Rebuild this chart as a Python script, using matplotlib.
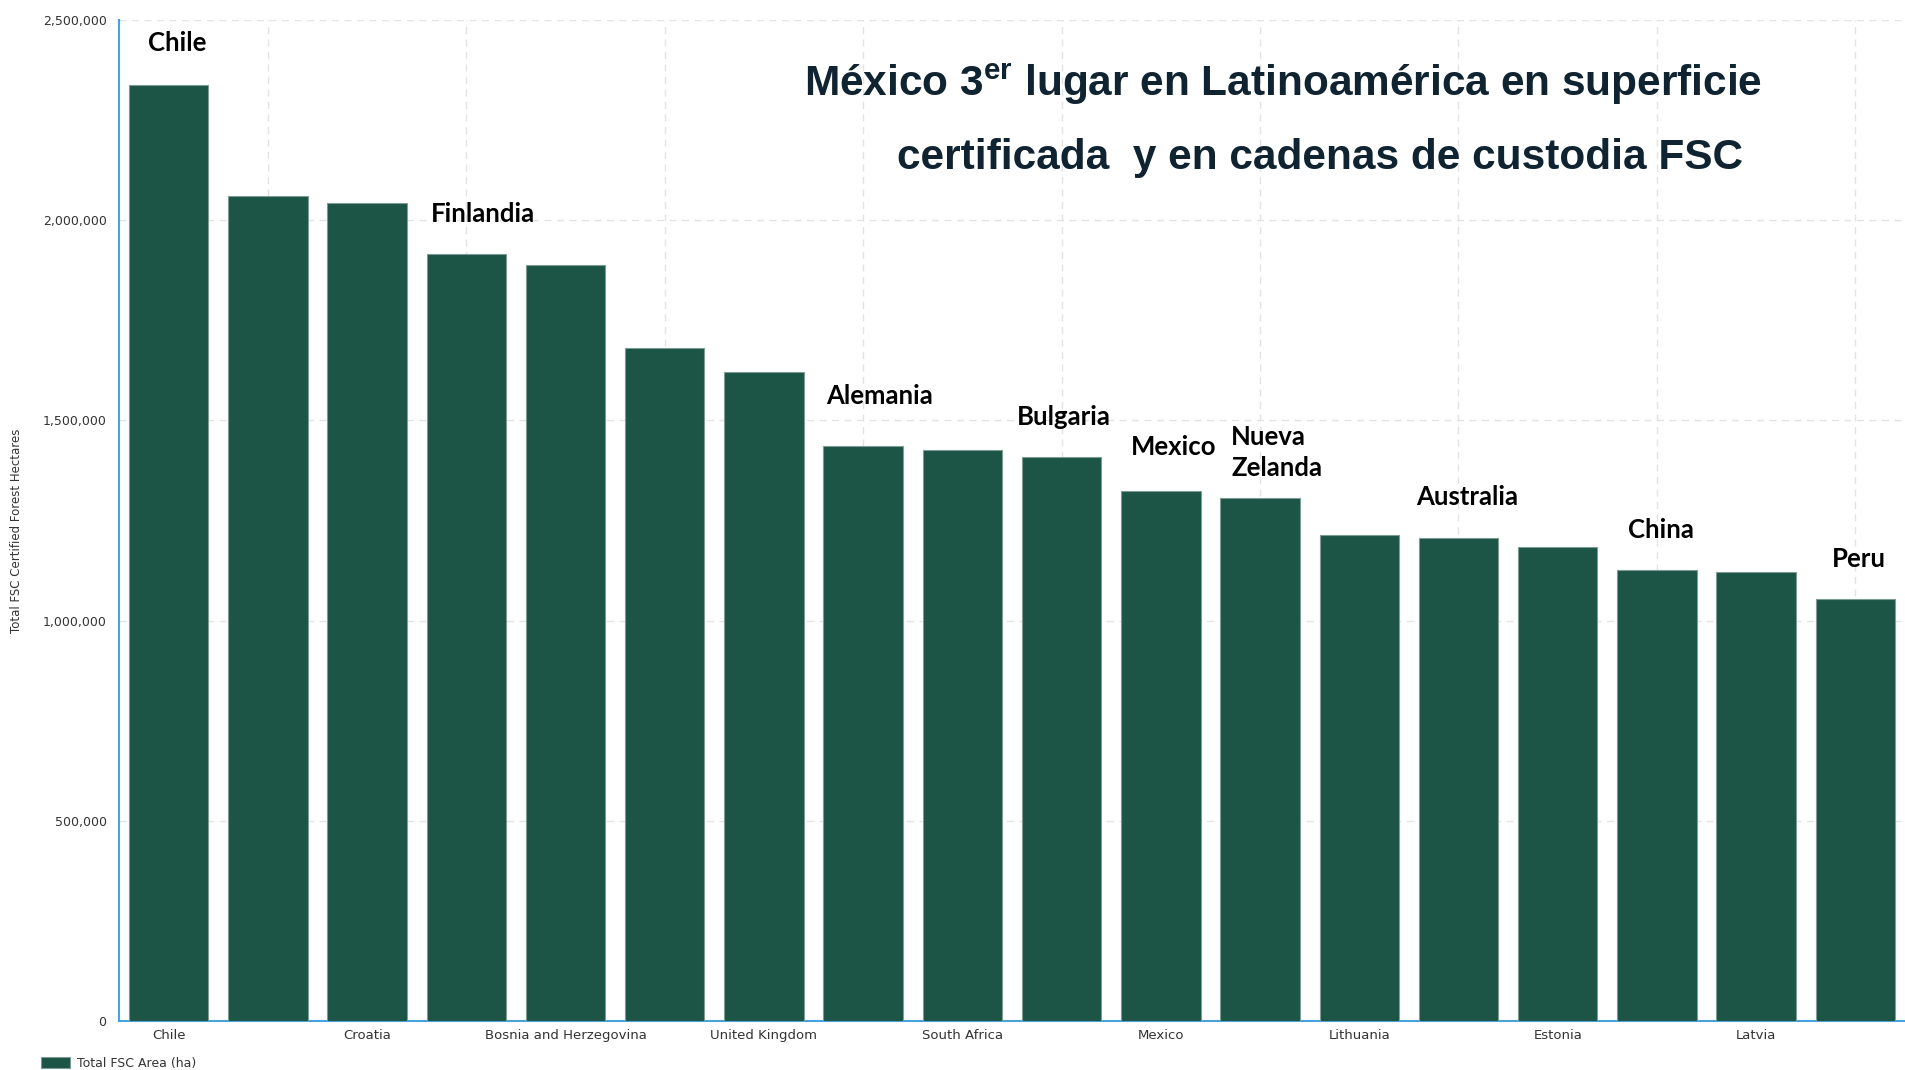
import matplotlib
matplotlib.use("Agg")
import matplotlib.pyplot as plt
from matplotlib.ticker import FuncFormatter, FixedLocator

# ---------------- data ----------------
countries = ["Chile", "Romania", "Croatia", "Finland", "Bosnia and Herzegovina",
             "Ukraine", "United Kingdom", "Germany", "South Africa", "Bulgaria",
             "Mexico", "New Zealand", "Lithuania", "Australia", "Estonia",
             "China", "Latvia", "Peru"]
area_ha = [2337000, 2061000, 2043000, 1916000, 1888000, 1682000, 1621000,
           1436000, 1427000, 1409000, 1324000, 1305000, 1214000, 1206000,
           1185000, 1127000, 1121000, 1055000]
annot_labels = {0: "Chile", 3: "Finlandia", 7: "Alemania", 9: "Bulgaria",
                10: "Mexico", 11: "Nueva\nZelanda", 13: "Australia",
                15: "China", 17: "Peru"}
y_ticks = [0, 500000, 1000000, 1500000, 2000000, 2500000]
series_name = "Total FSC Area (ha)"
y_label = "Total FSC Certified Forest Hectares"
title_1 = r"México 3$^{\mathbf{er}}$ lugar en Latinoamérica en superficie"
title_2 = "certificada  y en cadenas de custodia FSC"

# ---------------- style ----------------
plt.rcParams["mathtext.fontset"] = "custom"
plt.rcParams["mathtext.bf"] = "Liberation Sans:bold"
plt.rcParams["mathtext.rm"] = "Liberation Sans:bold"

BAR = "#1c5446"
AXIS = "#47a3dc"
GRID = "#e3e3e3"
TXT = "#333333"

W, H = 1905, 1070
fig = plt.figure(figsize=(W / 100, H / 100), dpi=100)
ax = fig.add_axes([119 / W, 49 / H, (W - 119) / W, (1021 - 20) / H])

x = list(range(len(countries)))
bars = ax.bar(x, area_ha, width=0.8, color=BAR, edgecolor="#7d9c94",
              linewidth=0.8, label=series_name, zorder=3)

ax.set_xlim(-0.5, len(countries) - 0.5)
ax.set_ylim(0, 2500000)

# ticks
ax.xaxis.set_major_locator(FixedLocator([i for i in x if i % 2 == 0]))
ax.set_xticklabels([countries[i] for i in x if i % 2 == 0])
ax.xaxis.set_minor_locator(FixedLocator([i for i in x if i % 2 == 1]))
ax.set_yticks(y_ticks)
ax.yaxis.set_major_formatter(FuncFormatter(lambda v, p: f"{int(v):,}"))
ax.tick_params(axis="both", which="both", length=0)
ax.tick_params(axis="x", pad=6, labelsize=9.5, labelcolor=TXT)
ax.tick_params(axis="y", pad=9, labelsize=9, labelcolor=TXT)

# grid
ax.grid(axis="y", which="major", color=GRID, linestyle=(0, (5, 4)), linewidth=1, zorder=0)
ax.grid(axis="x", which="minor", color=GRID, linestyle=(0, (5, 4)), linewidth=1, zorder=0)
ax.grid(axis="x", which="major", visible=False)

for s in ("top", "right"):
    ax.spines[s].set_visible(False)
for s in ("left", "bottom"):
    ax.spines[s].set_color(AXIS)
    ax.spines[s].set_linewidth(1.5)

ax.set_ylabel(y_label, fontsize=8.5, color=TXT, labelpad=0)
ax.yaxis.set_label_coords(-96 / (W - 119), (1021 - 531) / (1021 - 20))

# annotations above bars
offsets = {0: (9, 42), 3: (17, 40), 7: (16, 50), 9: (2, 40), 10: (13, 44),
           11: (-29, 46), 13: (9, 41), 15: (4, 40), 17: (3, 40)}
for i, lab in annot_labels.items():
    dx, dy = offsets[i]
    ax.annotate(lab, (x[i], area_ha[i]), xytext=(dx, dy),
                textcoords="offset pixels",
                ha="left" if "\n" in lab else "center", va="center",
                fontsize=18.5, fontweight="bold", family="Lato",
                color="black", linespacing=1.35, zorder=5)

# title
fig.text(1283 / W, 1 - 84 / H, title_1, ha="center", va="center",
         fontsize=30.5, fontweight="bold", family="Liberation Sans", color="#0f2330")
fig.text(1320 / W, 1 - 158 / H, title_2, ha="center", va="center",
         fontsize=30.5, fontweight="bold", family="Liberation Sans", color="#0f2330")

# legend
leg = fig.legend(handles=[bars], labels=[series_name], loc="center left",
                 bbox_to_anchor=(41 / W, 1 - 1063 / H), frameon=False,
                 fontsize=9, handlelength=2.3, handleheight=1.0,
                 handletextpad=0.55, borderaxespad=0, borderpad=0)
for t in leg.get_texts():
    t.set_color(TXT)

fig.savefig("out.png", dpi=100)
